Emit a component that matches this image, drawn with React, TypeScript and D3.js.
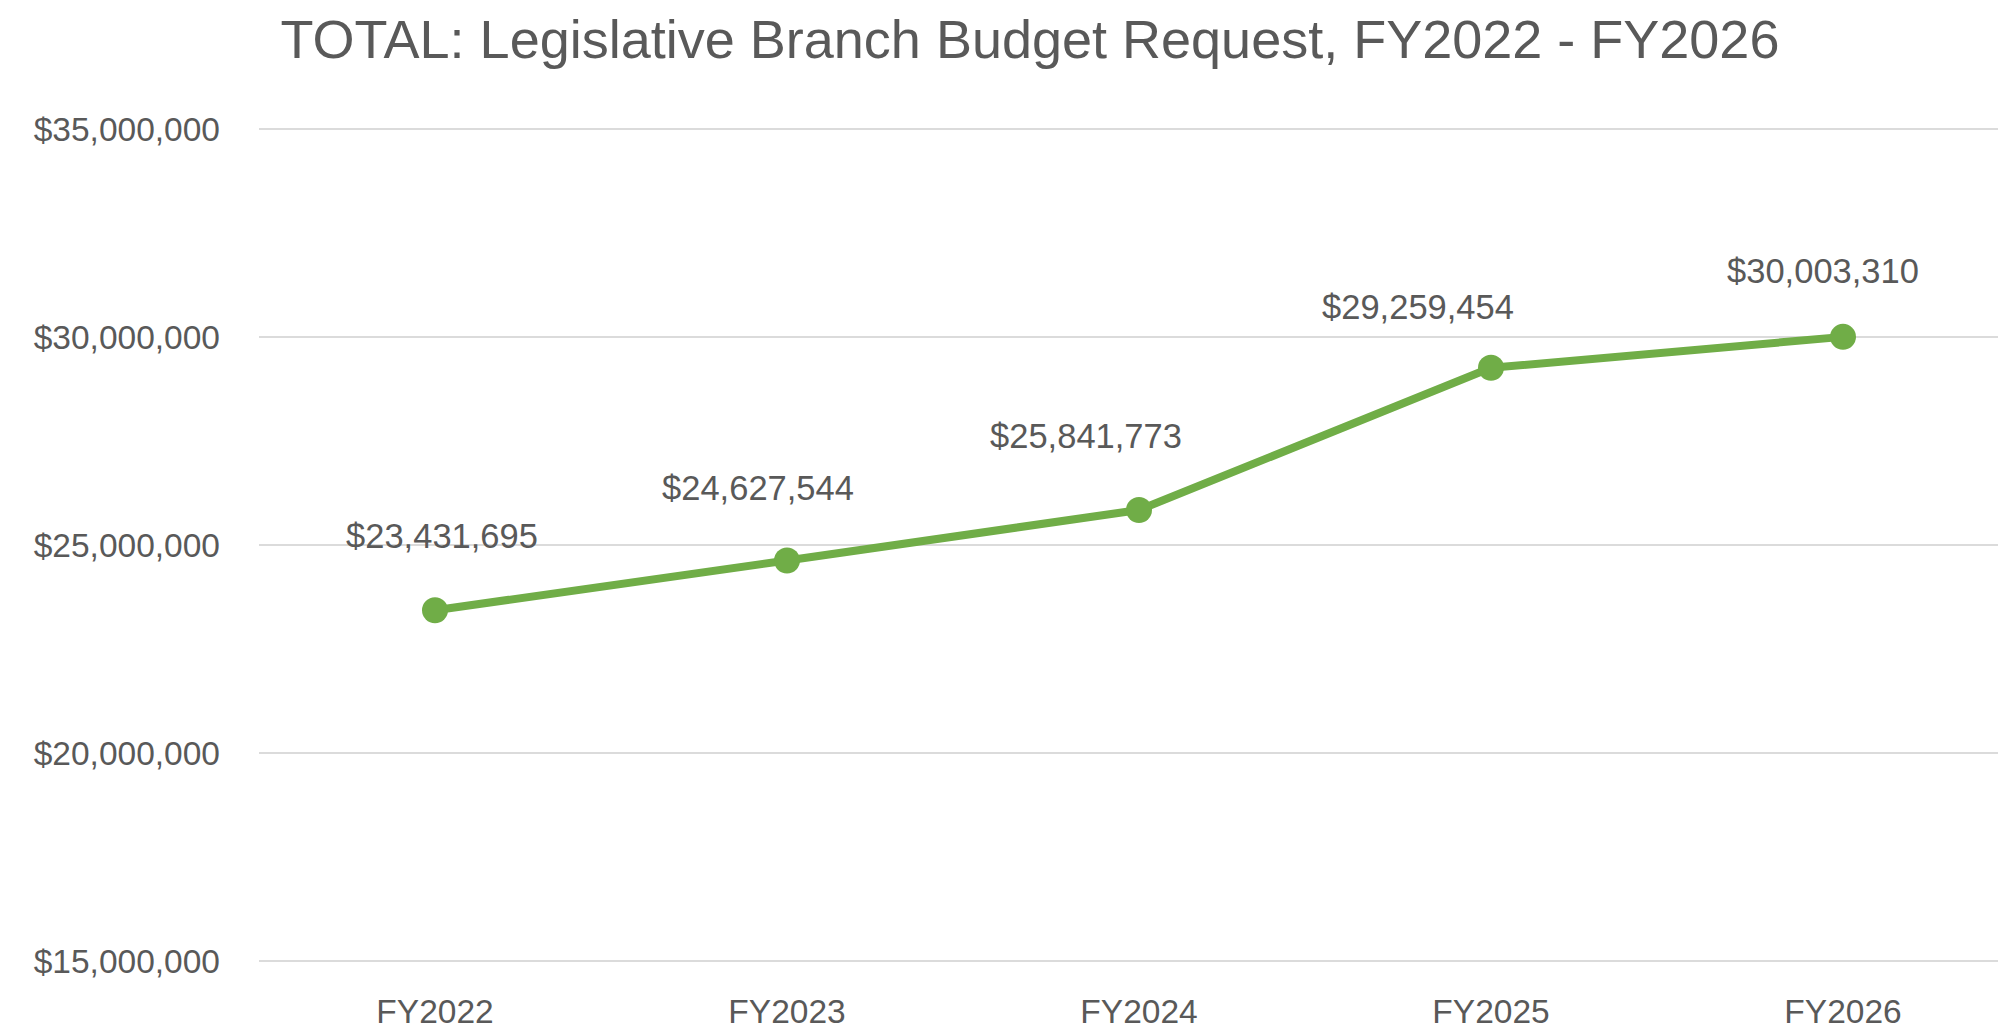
import React, { useEffect, useRef } from "react";
import * as d3 from "d3";

// chart data
const years = ["FY2022", "FY2023", "FY2024", "FY2025", "FY2026"];
const totals = [23431695, 24627544, 25841773, 29259454, 30003310];
const yTicks = [15000000, 20000000, 25000000, 30000000, 35000000];
const title = "TOTAL: Legislative Branch Budget Request, FY2022 - FY2026";

// label nudges (px) relative to each point, as placed in the original
const labelDx = [7, -29, -53, -73, -20];
const labelDy = [-62, -60, -62, -49, -54];

const WIDTH = 1998;
const HEIGHT = 1029;
const GREEN = "#70AD47";
const TEXT = "#595959";
const FONT = "'Liberation Sans', Arial, sans-serif";

const App: React.FC = () => {
    const svgRef = useRef<SVGSVGElement | null>(null);

    useEffect(() => {
        document.body.style.margin = "0";
        if (!svgRef.current) return;

        const svg = d3.select(svgRef.current);
        svg.selectAll("*").remove();

        const plot = { left: 259, right: 2019, top: 129, bottom: 961 };

        const x = d3
            .scalePoint<string>()
            .domain(years)
            .range([plot.left, plot.right])
            .padding(0.5);

        const y = d3
            .scaleLinear()
            .domain([15000000, 35000000])
            .range([plot.bottom, plot.top]);

        const fmt = d3.format("$,.0f");

        // gridlines
        svg.append("g")
            .selectAll("line")
            .data(yTicks)
            .join("line")
            .attr("x1", plot.left)
            .attr("x2", plot.right)
            .attr("y1", d => y(d))
            .attr("y2", d => y(d))
            .attr("stroke", "#cfcfcf")
            .attr("stroke-width", 1.3);

        // y tick labels
        svg.append("g")
            .selectAll("text")
            .data(yTicks)
            .join("text")
            .attr("x", 220)
            .attr("y", d => y(d))
            .attr("dy", "0.36em")
            .attr("text-anchor", "end")
            .attr("fill", TEXT)
            .style("font-family", FONT)
            .style("font-size", "33.5px")
            .text(d => fmt(d));

        // x category labels
        svg.append("g")
            .selectAll("text")
            .data(years)
            .join("text")
            .attr("x", d => x(d) as number)
            .attr("y", 1023)
            .attr("text-anchor", "middle")
            .attr("fill", TEXT)
            .style("font-family", FONT)
            .style("font-size", "33.5px")
            .text(d => d);

        // line
        const line = d3
            .line<number>()
            .x((_, i) => x(years[i]) as number)
            .y(d => y(d));

        svg.append("path")
            .datum(totals)
            .attr("fill", "none")
            .attr("stroke", GREEN)
            .attr("stroke-width", 8)
            .attr("stroke-linejoin", "round")
            .attr("d", line);

        // markers
        svg.append("g")
            .selectAll("circle")
            .data(totals)
            .join("circle")
            .attr("cx", (_, i) => x(years[i]) as number)
            .attr("cy", d => y(d))
            .attr("r", 13)
            .attr("fill", GREEN);

        // data labels
        svg.append("g")
            .selectAll("text")
            .data(totals)
            .join("text")
            .attr("x", (_, i) => (x(years[i]) as number) + labelDx[i])
            .attr("y", (d, i) => y(d) + labelDy[i])
            .attr("text-anchor", "middle")
            .attr("fill", TEXT)
            .style("font-family", FONT)
            .style("font-size", "34.5px")
            .text(d => fmt(d));

        // title
        svg.append("text")
            .attr("x", 1030)
            .attr("y", 58)
            .attr("text-anchor", "middle")
            .attr("fill", TEXT)
            .style("font-family", FONT)
            .style("font-size", "54px")
            .text(title);
    }, []);

    return (
        <svg
            ref={svgRef}
            width={WIDTH}
            height={HEIGHT}
            style={{ display: "block", background: "#fff" }}
        />
    );
};

export default App;
